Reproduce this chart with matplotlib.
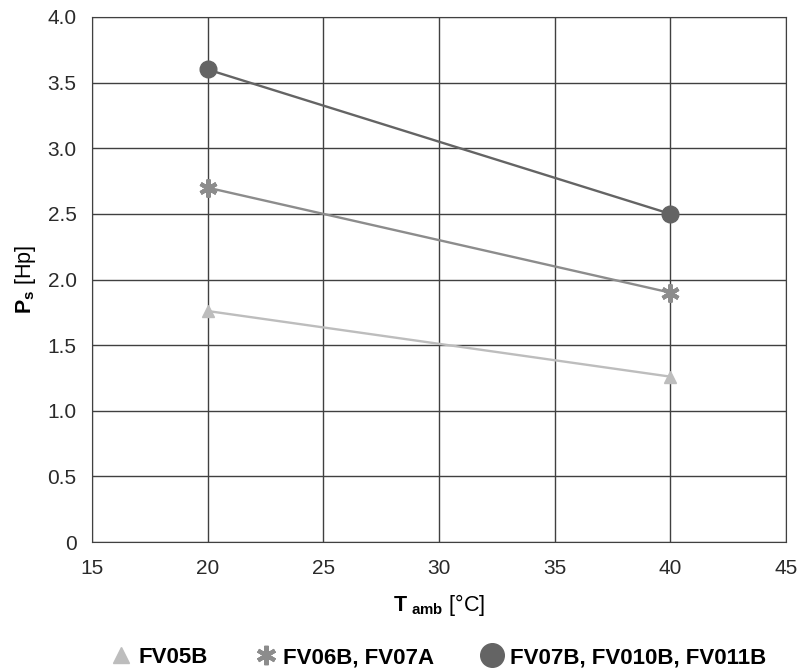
import matplotlib.pyplot as plt
from matplotlib.lines import Line2D

plt.rcParams['font.family'] = 'Liberation Sans'
plt.rcParams['mathtext.fontset'] = 'custom'
plt.rcParams['mathtext.rm'] = 'Liberation Sans'
plt.rcParams['mathtext.bf'] = 'Liberation Sans:bold'

t_amb = [20, 40]
fv05b = [1.76, 1.26]
fv06b = [2.70, 1.90]
fv07b = [3.60, 2.50]
labels = ['FV05B', 'FV06B, FV07A', 'FV07B, FV010B, FV011B']

xticks = [15, 20, 25, 30, 35, 40, 45]
yticks = [0, 0.5, 1.0, 1.5, 2.0, 2.5, 3.0, 3.5, 4.0]
ylabels = ['0', '0.5', '1.0', '1.5', '2.0', '2.5', '3.0', '3.5', '4.0']

fig = plt.figure(figsize=(7.99, 6.69), dpi=100)
ax = fig.add_axes([0.1151, 0.1898, 0.8686, 0.7848])

c1, c2, c3 = '#bdbdbd', '#8c8c8c', '#646464'
ax.plot(t_amb, fv05b, color=c1, lw=1.7, marker='^', ms=9, zorder=3)
ax.plot(t_amb, fv06b, color=c2, lw=1.7, marker=(6, 2, 0), ms=13, mew=3, zorder=3)
ax.plot(t_amb, fv07b, color=c3, lw=1.7, marker='o', ms=12, zorder=3)

ax.set_xlim(15, 45)
ax.set_ylim(0, 4.0)
ax.set_xticks(xticks)
ax.set_yticks(yticks)
ax.set_yticklabels(ylabels)
ax.grid(True, color='#404040', lw=1)
ax.set_axisbelow(True)
for s in ax.spines.values():
    s.set_color('#404040')
ax.tick_params(length=0, labelsize=15, colors='#2a2a2a')
ax.tick_params(axis='y', pad=11)
ax.tick_params(axis='x', pad=12)

ax.set_ylabel(r'$\mathbf{P_s}$ [Hp]', fontsize=15.5, labelpad=7)
ax.set_xlabel(r'$\mathbf{T_{\ amb}}$ [°C]', fontsize=15.5, labelpad=10)

handles = [
    Line2D([], [], ls='', marker='^', color=c1, ms=11),
    Line2D([], [], ls='', marker=(6, 2, 0), color=c2, ms=14, mew=3),
    Line2D([], [], ls='', marker='o', color=c3, ms=17),
]
fig.legend(handles, labels, loc='center', bbox_to_anchor=(0.548, 0.017), ncol=3,
           frameon=False, prop={'weight': 'bold', 'size': 16},
           handletextpad=0.3, columnspacing=2.1, handlelength=1)

fig.savefig('out.png', dpi=100)
